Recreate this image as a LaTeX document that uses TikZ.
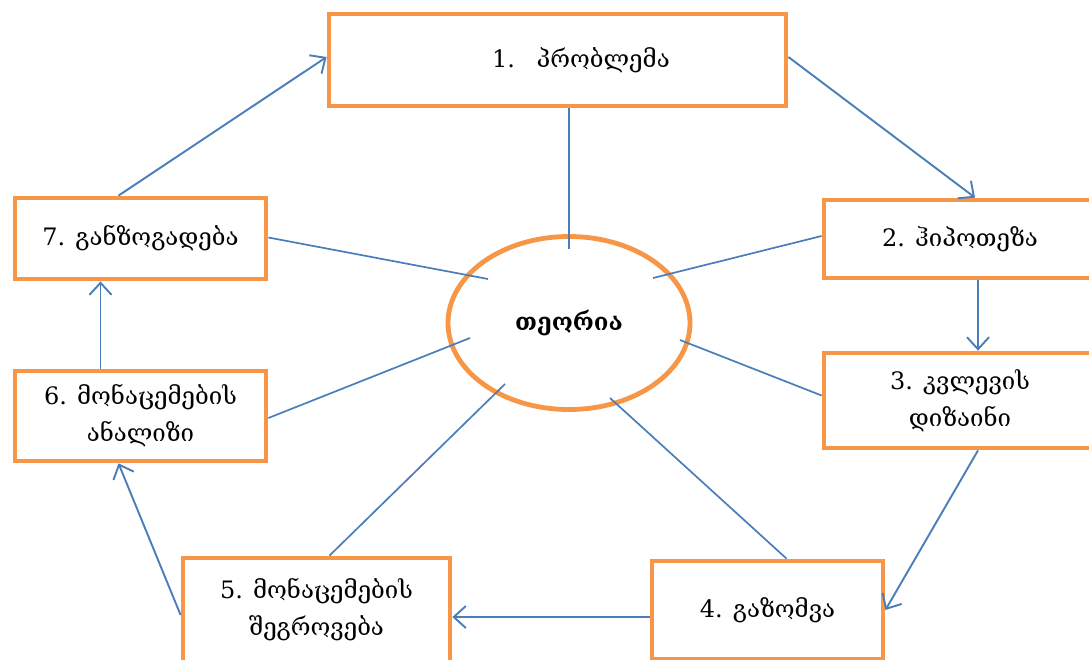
\documentclass[tikz,border=0pt]{standalone}
\usepackage{fontspec}
\setmainfont{DejaVu Serif}
\usetikzlibrary{arrows.meta,shapes.geometric,calc}
\definecolor{boxorange}{HTML}{F79646}
\definecolor{linkblue}{HTML}{4A7EBB}
\tikzset{
  stepbox/.style={draw=boxorange,line width=4.8pt,fill=white,rectangle,align=center,
    font=\fontsize{24}{37}\selectfont,inner sep=0pt},
  flow/.style={draw=linkblue,line width=1.9pt,-{Straight Barb[length=12pt,width=22pt,line width=1.9pt]}},
  spoke/.style={draw=linkblue,line width=1.7pt},
}
\begin{document}
\begin{tikzpicture}[x=1pt,y=-1pt]
\useasboundingbox (0,0) rectangle (1089,659);
\clip (0,0) rectangle (1089,659);
\fill[white] (0,0) rectangle (1089,659);
% boxes
\node[stepbox,minimum width=457pt,minimum height=92pt] (b1) at (557.5,60) {};
\node[font=\fontsize{24}{37}\selectfont] (t1) at (581,60) {1.\hspace{0.9em}პრობლემა};
\node[stepbox,minimum width=272pt,minimum height=78pt] (b2) at (960,239) {2. ჰიპოთეზა};
\node[stepbox,minimum width=272pt,minimum height=95pt] (b3) at (960,400.5) {3. კვლევის\\დიზაინი};
\node[stepbox,minimum width=231pt,minimum height=98pt] (b4) at (767.5,610) {4. გაზომვა};
\node[stepbox,minimum width=267pt,minimum height=104pt] (b5) at (316.5,610) {5. მონაცემების\\შეგროვება};
\node[stepbox,minimum width=251pt,minimum height=90pt] (b6) at (140.5,416) {6. მონაცემების\\ანალიზი};
\node[stepbox,minimum width=251pt,minimum height=81pt] (b7) at (140.5,238.5) {7. განზოგადება};
% theory
\node[ellipse,draw=boxorange,line width=4.8pt,minimum width=242pt,minimum height=173pt,
  font=\bfseries\fontsize{24}{28}\selectfont] (th) at (569,323) {თეორია};
% spoke ends
\coordinate (e1) at ([shift={(0,-74)}]th.center);
\coordinate (e2) at ([shift={(84,-45)}]th.center);
\coordinate (e3) at ([shift={(111,17)}]th.center);
\coordinate (e4) at ([shift={(41,75)}]th.center);
\coordinate (e5) at ([shift={(-64,61)}]th.center);
\coordinate (e6) at ([shift={(-99,15)}]th.center);
\coordinate (e7) at ([shift={(-81,-44)}]th.center);
\draw[spoke] ([shift={(11.5,0)}]b1.south) -- (e1);
\draw[spoke] ([shift={(0,-3)}]b2.west) -- (e2);
\draw[spoke] ([shift={(0,-5)}]b3.west) -- (e3);
\draw[spoke] ([shift={(19,0)}]b4.north) -- (e4);
\draw[spoke] ([shift={(13,0)}]b5.north) -- (e5);
\draw[spoke] ([shift={(0,2)}]b6.east) -- (e6);
\draw[spoke] ([shift={(0,-1)}]b7.east) -- (e7);
% cycle arrows
\draw[flow] ([shift={(0,-3)}]b1.east) -- ([shift={(15,0)}]b2.north);
\draw[flow] ([shift={(18,0)}]b2.south) -- ([shift={(18,0)}]b3.north);
\draw[flow] ([shift={(18,0)}]b3.south) -- (b4.east);
\draw[flow] ([shift={(0,7)}]b4.west) -- ([shift={(0,7)}]b5.east);
\draw[flow] ([shift={(0,5)}]b5.west) -- ([shift={(-22,0)}]b6.south);
\draw[flow] ([shift={(-40,0)}]b6.north) -- ([shift={(-40,0)}]b7.south);
\draw[flow] ([shift={(-22,0)}]b7.north) -- ([shift={(0,-3)}]b1.west);
\end{tikzpicture}
\end{document}
